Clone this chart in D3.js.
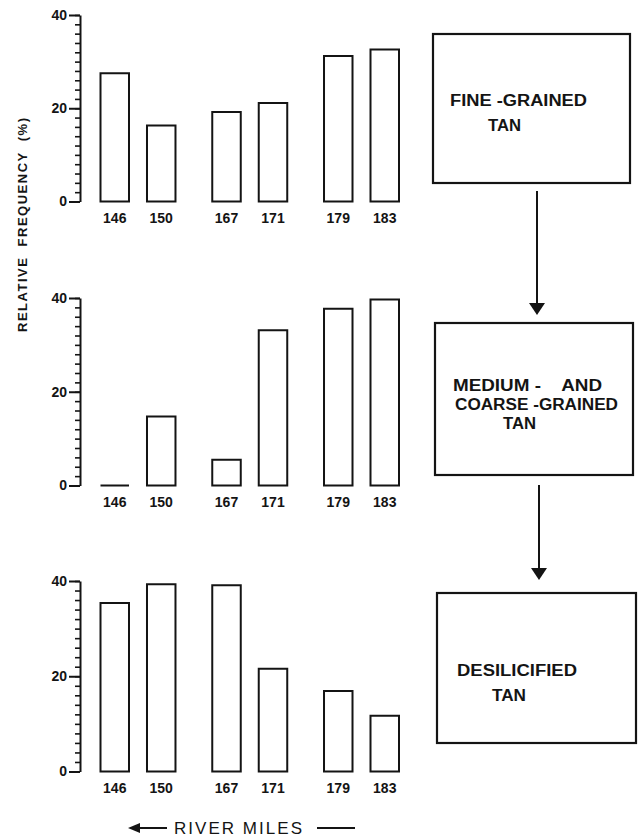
<!DOCTYPE html>
<html>
<head>
<meta charset="utf-8">
<script src="https://cdn.jsdelivr.net/npm/d3@7/dist/d3.min.js"></script>
<style>
	body { margin: 0; background: #fff; }
	text { font-family: "Liberation Sans", Arial, sans-serif; fill: #141414; white-space: pre; }
</style>
</head>
<body>
<script>
// river miles, sampled in pairs
var riverMiles = ["146", "150", "167", "171", "179", "183"];
var mileGroups = [["146", "150"], ["167", "171"], ["179", "183"]];

// relative frequency (%) per river mile
var fineGrained = [27.5, 16.3, 19.2, 21.1, 31.2, 32.6];
var mediumCoarse = [0, 14.7, 5.5, 33.1, 37.7, 39.7];
var desilicified = [35.4, 39.3, 39.1, 21.6, 16.9, 11.7];

var yTicks = [0, 20, 40];
var yMinorTicks = d3.range(0, 41, 2);

var boxLabels = [
	["FINE -GRAINED", "TAN"],
	["MEDIUM -    AND", "COARSE -GRAINED", "TAN"],
	["DESILICIFIED", "TAN"]
];

var width = 641;
var height = 838;
var ink = "#141414";

var svg = d3.select("body")
			.append("svg")
			.attr("width", width)
			.attr("height", height);

// panel frames (pixel top/bottom of the 0..40 range)
var panelSeries = [fineGrained, mediumCoarse, desilicified];
var panelFrames = [
	{top: 15, bottom: 201.5},
	{top: 298, bottom: 485.5},
	{top: 581, bottom: 771.5}
];
var axisX = 80;

// pairs of bars: outer band for each pair, inner band inside the pair
var groupScale = d3.scaleBand()
				.domain(d3.range(mileGroups.length))
				.range([100.5, 399])
				.paddingInner(0.329)
				.paddingOuter(0);

var pairScale = d3.scaleBand()
				.domain([0, 1])
				.range([0, groupScale.bandwidth()])
				.paddingInner(0.387)
				.paddingOuter(0);

function barX(mile){
	for(var g = 0; g < mileGroups.length; g++){
		var j = mileGroups[g].indexOf(mile);
		if(j >= 0) return groupScale(g) + pairScale(j);
	}
	return 0;
}

panelSeries.forEach(function(series, p){
	var frame = panelFrames[p];
	var y = d3.scaleLinear()
			.domain([0, 40])
			.range([frame.bottom, frame.top]);

	var panel = svg.append("g");

	// minor ticks + axis line
	var minor = panel.append("g")
				.attr("transform", "translate(" + axisX + ",0)")
				.call(d3.axisLeft(y).tickValues(yMinorTicks).tickSize(5).tickSizeOuter(0).tickFormat(""));
	minor.select(".domain").attr("stroke", ink).attr("stroke-width", 2);
	minor.selectAll(".tick line").attr("stroke", ink).attr("stroke-width", 1.6);

	// major ticks with labels
	var major = panel.append("g")
				.attr("transform", "translate(" + axisX + ",0)")
				.call(d3.axisLeft(y).tickValues(yTicks).tickSize(11).tickPadding(2));
	major.select(".domain").remove();
	major.selectAll(".tick line").attr("stroke", ink).attr("stroke-width", 2);
	major.selectAll(".tick text")
		.attr("font-family", "Liberation Sans, Arial, sans-serif")
		.attr("font-size", "14px")
		.attr("font-weight", "bold")
		.attr("fill", ink);

	// bars drawn as closed paths so a zero bar still shows as a line
	var bw = pairScale.bandwidth();
	panel.selectAll("path.bar")
		.data(riverMiles)
		.enter()
			.append("path")
			.attr("class", "bar")
			.attr("d", function(d, i){
				var x0 = barX(d);
				return "M" + x0 + "," + y(0) + "V" + y(series[i]) + "H" + (x0 + bw) + "V" + y(0) + "Z";
			})
			.attr("fill", "none")
			.attr("stroke", ink)
			.attr("stroke-width", 2);

	panel.selectAll("text.mile")
		.data(riverMiles)
		.enter()
			.append("text")
			.attr("class", "mile")
			.attr("x", function(d){return barX(d) + bw/2})
			.attr("y", frame.bottom + 16)
			.attr("dy", ".36em")
			.attr("text-anchor", "middle")
			.attr("font-size", "14px")
			.attr("font-weight", "bold")
			.text(function(d){return d});
});

// y axis title
svg.append("text")
	.attr("transform", "translate(22,225) rotate(-90)")
	.attr("text-anchor", "middle")
	.attr("dy", ".36em")
	.attr("font-size", "13px")
	.attr("font-weight", "bold")
	.attr("textLength", 214)
	.attr("lengthAdjust", "spacing")
	.text("RELATIVE  FREQUENCY  (%)");

// x axis title with arrow
svg.append("text")
	.attr("x", 174)
	.attr("y", 828)
	.attr("dy", ".36em")
	.attr("font-size", "17px")
	.attr("textLength", 128)
	.attr("lengthAdjust", "spacing")
	.text("RIVER MILES");

svg.append("line")
	.attr("x1", 136).attr("y1", 828)
	.attr("x2", 167).attr("y2", 828)
	.attr("stroke", ink).attr("stroke-width", 2);
svg.append("path")
	.attr("d", "M128,828 L140,823 L140,833 Z")
	.attr("fill", ink);
svg.append("line")
	.attr("x1", 317).attr("y1", 828)
	.attr("x2", 355).attr("y2", 828)
	.attr("stroke", ink).attr("stroke-width", 2);

// flow boxes on the right
var boxFrames = [
	{x: 433, y: 34, w: 197, h: 149, lines: [{x: 450, y: 100, len: 137}, {x: 488, y: 125, len: 33}]},
	{x: 435, y: 323, w: 198, h: 152, lines: [{x: 453, y: 385, len: 149}, {x: 455, y: 404, len: 163}, {x: 503, y: 423, len: 33}]},
	{x: 437, y: 593, w: 199, h: 150, lines: [{x: 457, y: 670, len: 120}, {x: 492, y: 695, len: 34}]}
];

boxFrames.forEach(function(b, k){
	svg.append("rect")
		.attr("x", b.x).attr("y", b.y)
		.attr("width", b.w).attr("height", b.h)
		.attr("fill", "none")
		.attr("stroke", ink)
		.attr("stroke-width", 2.2);

	b.lines.forEach(function(l, i){
		svg.append("text")
			.attr("x", l.x)
			.attr("y", l.y)
			.attr("dy", ".36em")
			.attr("font-size", "16px")
			.attr("font-weight", "bold")
			.attr("textLength", l.len)
			.attr("lengthAdjust", "spacingAndGlyphs")
			.text(boxLabels[k][i]);
	});
});

// arrows between boxes
var arrows = [
	{x: 537, y1: 191, y2: 315},
	{x: 539, y1: 485, y2: 580}
];
arrows.forEach(function(a){
	svg.append("line")
		.attr("x1", a.x).attr("y1", a.y1)
		.attr("x2", a.x).attr("y2", a.y2 - 10)
		.attr("stroke", ink).attr("stroke-width", 2);
	svg.append("path")
		.attr("d", "M" + (a.x - 8) + "," + (a.y2 - 12) + " L" + (a.x + 8) + "," + (a.y2 - 12) + " L" + a.x + "," + a.y2 + " Z")
		.attr("fill", ink);
});
</script>
</body>
</html>
